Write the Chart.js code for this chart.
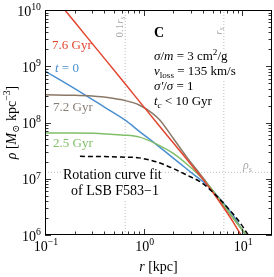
<!DOCTYPE html>
<html><head><meta charset="utf-8">
<script src="https://cdn.jsdelivr.net/npm/chart.js@4.4.1/dist/chart.umd.min.js"></script>
<style>html,body{margin:0;padding:0;background:#fff;overflow:hidden}</style>
</head><body>
<canvas id="c" width="274" height="277"></canvas>
<script>
// ---- data (r in kpc, rho in Msun/kpc^3) ----
const r_t0   = [0.1, 0.2, 0.4, 0.65, 0.91, 1.29, 2.31, 3.3, 4.3, 6, 8, 10.8, 13];
const rho_t0 = [8.2e8, 4.0e8, 1.88e8, 1.1e8, 6.9e7, 4.3e7, 1.9e7, 1.15e7, 8.0e6, 4.3e6, 2.3e6, 1.0e6, 7.0e5];
const r_t76   = [0.1, 0.2, 0.4, 0.8, 1.5, 2.5, 3.5, 4.3, 6, 8, 9.7, 12];
const rho_t76 = [2.7e10, 6.1e9, 1.38e9, 3.1e8, 8.0e7, 2.7e7, 1.3e7, 8.3e6, 3.7e6, 1.75e6, 1.0e6, 5.5e5];
const r_t72   = [0.1, 0.2, 0.3, 0.45, 0.65, 0.9, 1.2, 1.45, 2.0, 2.7, 3.5, 4.3, 6, 8, 11, 13];
const rho_t72 = [3.1e8, 3.05e8, 2.95e8, 2.75e8, 2.45e8, 2.05e8, 1.5e8, 1.12e8, 5.2e7, 2.5e7, 1.4e7, 8.8e6, 4.0e6, 2.05e6, 1.0e6, 7.0e5];
const r_t25   = [0.1, 0.2, 0.35, 0.6, 0.91, 1.29, 1.98, 2.92, 4.3, 6, 8, 11, 13];
const rho_t25 = [6.5e7, 6.5e7, 6.4e7, 6.0e7, 5.5e7, 4.3e7, 2.85e7, 1.65e7, 8.6e6, 4.1e6, 2.05e6, 1.0e6, 7.0e5];
const r_fit   = [0.226, 0.4, 0.6, 0.9, 1.34, 1.98, 2.92, 3.68, 4.3, 5.86, 8, 9.33, 11.5];
const rho_fit = [2.5e7, 2.48e7, 2.43e7, 2.35e7, 2.0e7, 1.53e7, 1.1e7, 9.0e6, 7.4e6, 4.4e6, 2.4e6, 1.72e6, 1.0e6];
const r_s = 6.5, r_s_tenth = 0.65, rho_s = 1.3e7;
const xRange = [0.1, 20], yRange = [1e6, 1e10];
const xMajor = [0.1, 1, 10], xMajorExp = ['\u22121', '0', '1'];
const yMajor = [1e6, 1e7, 1e8, 1e9, 1e10], yMajorExp = ['6', '7', '8', '9', '10'];

const FONT = '"Liberation Serif", "DejaVu Serif", serif';
const C_RED = '#e2442e', C_BLUE = '#4a8fd0', C_BROWN = '#8a7867', C_GREEN = '#80bf68', C_REF = '#bdbdbd';

const pts = (rs, vs) => rs.map((r, i) => ({x: r, y: vs[i]}));

function layoutRich(ctx, segs, S) {
  let w = 0; const out = [];
  for (const sg of segs) {
    const size = (sg.sub || sg.sup) ? S * 0.7 : S;
    const f = `${sg.b ? 'bold ' : ''}${sg.it ? 'italic ' : ''}${size}px ${FONT}`;
    ctx.font = f;
    const mw = ctx.measureText(sg.t).width;
    const dy = sg.sup ? -S * 0.4 : sg.sub ? S * 0.22 : 0;
    out.push({t: sg.t, f, x: w, dy});
    w += mw + (sg.k || 0);
  }
  return {out, w};
}
function drawRich(ctx, segs, x, y, S, color, align, bg) {
  const {out, w} = layoutRich(ctx, segs, S);
  const x0 = align === 'center' ? x - w / 2 : align === 'right' ? x - w : x;
  if (bg) { ctx.fillStyle = '#fff'; ctx.fillRect(x0 - 1, y - S * 0.8, w + 2, S * 1.1); }
  ctx.fillStyle = color; ctx.textAlign = 'left'; ctx.textBaseline = 'alphabetic';
  for (const o of out) { ctx.font = o.f; ctx.fillText(o.t, x0 + o.x, y + o.dy); }
  return w;
}

function boxedTexts(chart) {
  const ctx = chart.ctx;
  ctx.save();
  drawRich(ctx, [{t: 'Rotation curve fit'}], 63, 179, 14, '#000', 'left', true);
  drawRich(ctx, [{t: 'of LSB F583\u22121'}], 71, 195, 14, '#000', 'left', true);
  drawRich(ctx, [{t: 'C', b: true}], 154, 36.5, 14, '#000', 'left', false);
  drawRich(ctx, [{t: '\u03c3', it: true}, {t: '/'}, {t: 'm', it: true}, {t: ' = 3 cm'}, {t: '2', sup: true}, {t: '/g'}], 154, 60, 13, '#000', 'left', true);
  drawRich(ctx, [{t: 'v', it: true}, {t: 'loss', sub: true}, {t: ' = 135 km/s'}], 154, 75, 13, '#000', 'left', true);
  drawRich(ctx, [{t: '\u03c3\u2032', it: true}, {t: '/'}, {t: '\u03c3', it: true}, {t: ' = 1'}], 154, 90, 13, '#000', 'left', true);
  drawRich(ctx, [{t: 't', it: true}, {t: 'c', it: true, sub: true}, {t: ' < 10 Gyr'}], 154, 105, 13, '#000', 'left', true);
  ctx.restore();
}

const deco = {
  id: 'deco',
  afterDatasetDraw(chart, args) {
    if (chart.data.datasets[args.index].isLastRef) boxedTexts(chart);
  },
  afterDraw(chart) {
    const {ctx, chartArea: a, scales: {x, y}} = chart;
    ctx.save();
    ctx.strokeStyle = '#000'; ctx.lineWidth = 1;
    ctx.strokeRect(a.left + 0.5, a.top + 0.5, a.right - a.left - 1, a.bottom - a.top - 1);
    ctx.lineWidth = 0.8;
    const seg = (x1, y1, x2, y2) => { ctx.beginPath(); ctx.moveTo(x1, y1); ctx.lineTo(x2, y2); ctx.stroke(); };
    for (let e = -1; e <= 1; e++) for (let m = 1; m <= 9; m++) {
      const v = m * Math.pow(10, e);
      if (v < xRange[0] || v >= xRange[1]) continue;
      const L = m === 1 ? 6 : 3.5;
      const px = Math.round(x.getPixelForValue(v)) + 0.5;
      seg(px, a.bottom, px, a.bottom - L); seg(px, a.top, px, a.top + L);
    }
    for (let e = 6; e <= 10; e++) for (let m = 1; m <= 9; m++) {
      const v = m * Math.pow(10, e);
      if (v > yRange[1]) continue;
      const L = m === 1 ? 6 : 3.5;
      const py = Math.round(y.getPixelForValue(v)) + 0.5;
      seg(a.left, py, a.left + L, py); seg(a.right, py, a.right - L, py);
    }
    xMajor.forEach((v, i) => drawRich(ctx, [{t: '10'}, {t: xMajorExp[i], sup: true}], x.getPixelForValue(v) + 1, 251, 14, '#000', 'center'));
    yMajor.forEach((v, i) => drawRich(ctx, [{t: '10'}, {t: yMajorExp[i], sup: true}], 41, y.getPixelForValue(v) + 5.5, 14, '#000', 'right'));
    drawRich(ctx, [{t: 'r', it: true}, {t: ' [kpc]'}], (a.left + a.right) / 2, 271, 14, '#000', 'center');
    ctx.save(); ctx.translate(16, (a.top + a.bottom) / 2); ctx.rotate(-Math.PI / 2);
    drawRich(ctx, [{t: '\u03c1', it: true}, {t: ' ['}, {t: 'M', it: true}, {t: '\u2299', sub: true}, {t: ' kpc'}, {t: '\u22123', sup: true}, {t: ']'}], 0, 0, 14, '#000', 'center');
    ctx.restore();
    drawRich(ctx, [{t: '7.6 Gyr'}], 52, 49, 13, C_RED, 'left');
    drawRich(ctx, [{t: 't', it: true}, {t: ' = 0'}], 55, 72, 13, C_BLUE, 'left');
    drawRich(ctx, [{t: '7.2 Gyr'}], 53, 111, 13, '#8a7e74', 'left');
    drawRich(ctx, [{t: '2.5 Gyr'}], 53, 147, 13, C_GREEN, 'left');
    drawRich(ctx, [{t: '\u03c1', it: true}, {t: 's', it: true, sub: true}], 243, 169, 12, '#a8a8a8', 'left');
    ctx.save(); ctx.translate(123, 27); ctx.rotate(-Math.PI / 2);
    drawRich(ctx, [{t: '0.1'}, {t: 'r', it: true}, {t: 's', it: true, sub: true}], 0, 0, 11, '#a8a8a8', 'center');
    ctx.restore();
    ctx.save(); ctx.translate(222, 31); ctx.rotate(-Math.PI / 2);
    drawRich(ctx, [{t: 'r', it: true}, {t: 's', it: true, sub: true}], 0, 0, 11, '#a8a8a8', 'center');
    ctx.restore();
    ctx.restore();
  }
};

const refStyle = {borderColor: C_REF, borderWidth: 1, borderDash: [1, 2], pointRadius: 0, tension: 0};
const curve = (data, color, order, extra) => Object.assign({data, borderColor: color, borderWidth: 1.5, pointRadius: 0, cubicInterpolationMode: 'monotone', fill: false, order}, extra || {});

new Chart(document.getElementById('c'), {
  type: 'line',
  data: {
    datasets: [
      curve(pts(r_fit, rho_fit), '#000', 0, {borderDash: [5, 3]}),
      curve(pts(r_t76, rho_t76), C_RED, 1),
      curve(pts(r_t25, rho_t25), C_GREEN, 2),
      curve(pts(r_t72, rho_t72), C_BROWN, 3),
      curve(pts(r_t0, rho_t0), C_BLUE, 4),
      Object.assign({data: [{x: xRange[0], y: rho_s}, {x: xRange[1], y: rho_s}], order: 10, isLastRef: true}, refStyle),
      Object.assign({data: [{x: r_s_tenth, y: yRange[0]}, {x: r_s_tenth, y: yRange[1]}], order: 11}, refStyle),
      Object.assign({data: [{x: r_s, y: yRange[0]}, {x: r_s, y: yRange[1]}], order: 12}, refStyle)
    ]
  },
  options: {
    responsive: false, animation: false, devicePixelRatio: 1,
    layout: {padding: {left: 0, right: 2, top: 10, bottom: 0}},
    plugins: {legend: {display: false}, tooltip: {enabled: false}},
    elements: {point: {radius: 0}},
    scales: {
      x: {type: 'logarithmic', min: xRange[0], max: xRange[1], grid: {display: false}, border: {display: false}, ticks: {display: false}, afterFit(s) { s.height = 42; }},
      y: {type: 'logarithmic', min: yRange[0], max: yRange[1], grid: {display: false}, border: {display: false}, ticks: {display: false}, afterFit(s) { s.width = 45; }}
    }
  },
  plugins: [deco]
});
</script>
</body></html>
